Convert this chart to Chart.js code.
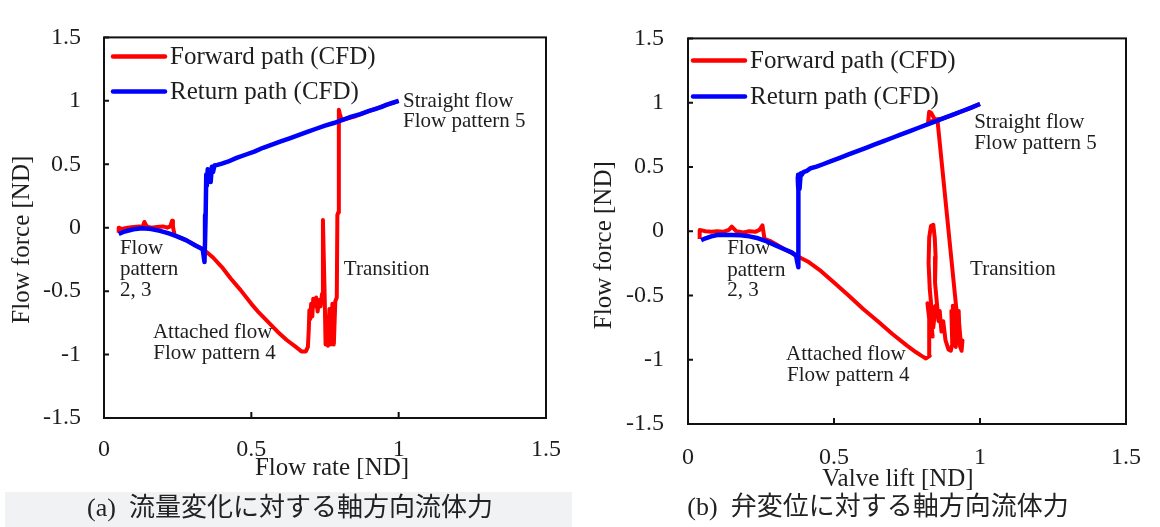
<!DOCTYPE html>
<html>
<head>
<meta charset="utf-8">
<script src="https://cdn.jsdelivr.net/npm/chart.js@4.4.0/dist/chart.umd.min.js"></script>
<style>
  body { margin: 0; background: #fff; width: 1160px; height: 527px; position: relative; overflow: hidden; }
  .panel { position: absolute; top: 0; width: 580px; height: 490px; }
  .band { position: absolute; left: 5px; top: 492px; width: 567px; height: 35px; background: #f1f2f4; }
  .cap { position: absolute; height: 36px; line-height: 36px; text-align: center; white-space: pre;
         font-family: "Liberation Serif", "Noto Sans CJK JP", serif; font-size: 26px; color: #222; }
</style>
</head>
<body>
<div class="panel" style="left:0"><canvas id="chartA"></canvas></div>
<div class="panel" style="left:580px"><canvas id="chartB"></canvas></div>
<div class="band"></div>
<div class="cap" style="left:0; width:580px; top:490px">(a)  流量変化に対する軸方向流体力</div>
<div class="cap" style="left:598px; width:560px; top:489px">(b)  弁変位に対する軸方向流体力</div>

<script>
// (a) flow force vs flow rate
var rateFwdX = [0.05, 0.05, 0.06, 0.08, 0.10, 0.12, 0.13, 0.137, 0.145, 0.16, 0.18, 0.20, 0.215, 0.225, 0.231, 0.234, 0.237, 0.24,
    0.26, 0.28, 0.30, 0.32, 0.34, 0.37, 0.40, 0.43, 0.463, 0.50, 0.526, 0.56, 0.589, 0.62, 0.651, 0.67, 0.685, 0.692,
    0.695, 0.697, 0.700, 0.703, 0.707, 0.710, 0.715, 0.720, 0.725, 0.730, 0.735, 0.740, 0.743, 0.746, 0.749, 0.752, 0.756,
    0.760, 0.765, 0.770, 0.775, 0.780, 0.785, 0.790, 0.792, 0.795, 0.797, 0.800, 0.805, 0.81, 0.85, 0.90, 0.95, 1.0];
var rateFwdY = [-0.04, 0.00, -0.01, 0.00, 0.005, 0.01, 0.0, 0.045, 0.01, 0.0, 0.005, 0.01, 0.0, 0.01, 0.055, 0.01, -0.03, -0.06,
    -0.08, -0.10, -0.125, -0.15, -0.175, -0.235, -0.31, -0.40, -0.49, -0.60, -0.67, -0.75, -0.82, -0.885, -0.94, -0.975, -0.975, -0.94,
    -0.80, -0.65, -0.72, -0.60, -0.70, -0.56, -0.62, -0.55, -0.66, -0.57, -0.62, -0.52, 0.06, -0.25, -0.55, -0.92, -0.70,
    -0.93, -0.64, -0.92, -0.60, -0.92, -0.58, -0.55, 0.10, 0.12, 0.93, 0.90, 0.86, 0.85, 0.875, 0.92, 0.96, 1.0];
var rateRetX = [1.0, 0.98, 0.96, 0.94, 0.92, 0.90, 0.87, 0.84, 0.81, 0.78, 0.75, 0.72, 0.69, 0.66, 0.63, 0.60, 0.57, 0.54,
    0.51, 0.48, 0.45, 0.42, 0.40, 0.385, 0.375, 0.37, 0.366, 0.362, 0.358, 0.355, 0.352, 0.349, 0.347, 0.345, 0.343, 0.341,
    0.338, 0.335, 0.31, 0.28, 0.25, 0.22, 0.19, 0.16, 0.13, 0.10, 0.07, 0.05];
var rateRetY = [1.0, 0.985, 0.97, 0.95, 0.935, 0.92, 0.895, 0.875, 0.85, 0.825, 0.805, 0.78, 0.755, 0.73, 0.705, 0.68, 0.655, 0.63,
    0.60, 0.575, 0.55, 0.52, 0.505, 0.495, 0.49, 0.44, 0.48, 0.36, 0.45, 0.38, 0.46, 0.33, 0.42, 0.10, -0.10, -0.27,
    -0.22, -0.17, -0.14, -0.10, -0.07, -0.045, -0.025, -0.01, -0.005, -0.012, -0.03, -0.05];

// (b) flow force vs valve lift
var liftFwdX = [0.04, 0.04, 0.06, 0.08, 0.10, 0.12, 0.14, 0.15, 0.165, 0.19, 0.21, 0.23, 0.245, 0.255, 0.258, 0.262,
    0.28, 0.30, 0.33, 0.36, 0.38, 0.41, 0.45, 0.50, 0.55, 0.60, 0.65, 0.70, 0.75, 0.78, 0.80, 0.815, 0.828,
    0.826, 0.82, 0.832, 0.824, 0.838, 0.83, 0.848, 0.84, 0.828, 0.824, 0.826, 0.832, 0.84, 0.845, 0.848, 0.846,
    0.852, 0.858, 0.862, 0.868, 0.874, 0.882, 0.892, 0.90, 0.905, 0.902, 0.91, 0.907, 0.916, 0.92, 0.917, 0.927, 0.931,
    0.928, 0.936, 0.94, 0.937, 0.932, 0.855, 0.84, 0.83, 0.822, 0.826, 0.833, 0.845, 0.87, 0.90, 0.93, 0.96, 1.0];
var liftFwdY = [-0.06, 0.01, 0.0, -0.005, 0.0, -0.005, 0.01, 0.035, 0.0, -0.01, 0.0, -0.005, 0.01, 0.045, 0.0, -0.06,
    -0.075, -0.10, -0.14, -0.175, -0.20, -0.235, -0.30, -0.40, -0.50, -0.605, -0.70, -0.80, -0.89, -0.94, -0.97, -0.99, -0.97,
    -0.68, -0.56, -0.80, -0.60, -0.82, -0.65, -0.58, -0.75, -0.45, -0.25, -0.05, 0.04, 0.05, -0.05, -0.20, -0.40,
    -0.55, -0.70, -0.62, -0.78, -0.70, -0.85, -0.92, -0.93, -0.88, -0.62, -0.80, -0.58, -0.85, -0.65, -0.90, -0.62, -0.88,
    -0.70, -0.92, -0.85, -0.93, -0.90, 0.85, 0.86, 0.85, 0.84, 0.93, 0.92, 0.87, 0.874, 0.90, 0.926, 0.952, 0.99];
var liftRetX = [1.0, 0.97, 0.94, 0.91, 0.88, 0.85, 0.82, 0.79, 0.76, 0.73, 0.70, 0.67, 0.64, 0.61, 0.58, 0.55, 0.52, 0.49,
    0.46, 0.44, 0.42, 0.407, 0.395, 0.39, 0.386, 0.382, 0.379, 0.377, 0.376, 0.378, 0.379, 0.378, 0.377, 0.375, 0.37,
    0.355, 0.33, 0.30, 0.27, 0.24, 0.21, 0.18, 0.15, 0.12, 0.10, 0.08, 0.06, 0.045];
var liftRetY = [0.99, 0.961, 0.935, 0.909, 0.883, 0.857, 0.831, 0.805, 0.779, 0.753, 0.727, 0.701, 0.675, 0.649, 0.623, 0.597, 0.571, 0.545,
    0.519, 0.502, 0.49, 0.47, 0.46, 0.44, 0.45, 0.33, 0.44, 0.35, 0.42, 0.32, 0.10, -0.15, -0.28, -0.25, -0.19,
    -0.165, -0.14, -0.11, -0.08, -0.055, -0.04, -0.032, -0.03, -0.028, -0.03, -0.04, -0.055, -0.07];

var axisTicks = [-1.5, -1, -0.5, 0, 0.5, 1, 1.5];
var yTickLabels = ['-1.5', '-1', '-0.5', '0', '0.5', '1', '1.5'];
var xTickLabels = ['0', '0.5', '1', '1.5'];
var seriesNames = ['Forward path (CFD)', 'Return path (CFD)'];
var seriesColors = ['#ff0000', '#0000ff'];

var SERIF = '"Liberation Serif", "Times New Roman", serif';
var INK = '#1e1e1e';

function pts(xs, ys) {
    return xs.map(function (v, i) { return { x: v, y: ys[i] }; });
}

// frame, inward ticks, legend, notes and axis titles
var decor = {
    id: 'decor',
    afterDatasetsDraw: function (chart, args, o) {
        var ctx = chart.ctx, a = chart.chartArea, xs = chart.scales.x, ys = chart.scales.y;
        ctx.save();
        ctx.strokeStyle = '#111';
        ctx.lineWidth = 2;
        ctx.strokeRect(a.left, a.top, a.right - a.left, a.bottom - a.top);
        ctx.beginPath();
        ys.ticks.forEach(function (t) {
            var py = ys.getPixelForValue(t.value);
            ctx.moveTo(a.left, py); ctx.lineTo(a.left + 5, py);
        });
        xs.ticks.forEach(function (t) {
            var px = xs.getPixelForValue(t.value);
            ctx.moveTo(px, a.bottom); ctx.lineTo(px, a.bottom - 6);
        });
        ctx.stroke();

        // legend
        ctx.lineWidth = 4.5;
        ctx.lineCap = 'round';
        ctx.font = '25px ' + SERIF;
        ctx.fillStyle = INK;
        ctx.textBaseline = 'middle';
        ctx.textAlign = 'left';
        o.legendRows.forEach(function (dy, i) {
            var ly = a.top + dy;
            ctx.strokeStyle = seriesColors[i];
            ctx.beginPath();
            ctx.moveTo(a.left + o.legendLine[0], ly);
            ctx.lineTo(a.left + o.legendLine[1], ly);
            ctx.stroke();
            ctx.fillText(seriesNames[i], a.left + o.legendText, ly + 1);
        });

        // notes
        ctx.font = '21px ' + SERIF;
        o.notes.forEach(function (n) {
            ctx.fillText(n[0], xs.getPixelForValue(n[1]), ys.getPixelForValue(n[2]));
        });

        // axis titles
        ctx.font = '25px ' + SERIF;
        ctx.textAlign = 'center';
        ctx.fillText(o.xTitle, (a.left + a.right) / 2 + o.xTitleAt[0], a.bottom + o.xTitleAt[1]);
        ctx.translate(a.left + o.yTitleAt[0], (a.top + a.bottom) / 2 + o.yTitleAt[1]);
        ctx.rotate(-Math.PI / 2);
        ctx.fillText(o.yTitle, 0, 0);
        ctx.restore();
    }
};

function makeChart(id, fx, fy, rx, ry, lay) {
    return new Chart(id, {
        type: 'scatter',
        data: {
            datasets: [{
                label: seriesNames[1],
                data: pts(rx, ry),
                showLine: true,
                borderColor: seriesColors[1],
                borderWidth: 4.5,
                pointRadius: 0,
                borderJoinStyle: 'round',
                order: 0
            }, {
                label: seriesNames[0],
                data: pts(fx, fy),
                showLine: true,
                borderColor: seriesColors[0],
                borderWidth: 4,
                pointRadius: 0,
                borderJoinStyle: 'round',
                order: 1
            }]
        },
        options: {
            responsive: true,
            maintainAspectRatio: false,
            animation: false,
            layout: { padding: lay.padding },
            plugins: {
                legend: { display: false },
                tooltip: { enabled: false },
                decor: lay.decor
            },
            scales: {
                x: {
                    type: 'linear', min: 0, max: 1.5,
                    afterBuildTicks: function (s) { s.ticks = [0, 0.5, 1, 1.5].map(function (v) { return { value: v }; }); },
                    afterFit: function (s) { s.height = lay.xHeight; },
                    grid: { display: false, drawTicks: false },
                    border: { display: false },
                    ticks: {
                        padding: lay.xPad, color: INK, font: { family: SERIF, size: 24 },
                        callback: function (v, i) { return xTickLabels[i]; }
                    }
                },
                y: {
                    type: 'linear', min: -1.5, max: 1.5,
                    afterBuildTicks: function (s) { s.ticks = axisTicks.map(function (v) { return { value: v }; }); },
                    afterFit: function (s) { s.width = lay.yWidth; },
                    grid: { display: false, drawTicks: false },
                    border: { display: false },
                    ticks: {
                        padding: lay.yPad, color: INK, font: { family: SERIF, size: 24 },
                        callback: function (v, i) { return yTickLabels[i]; }
                    }
                }
            }
        },
        plugins: [decor]
    });
}

makeChart('chartA', rateFwdX, rateFwdY, rateRetX, rateRetY, {
    padding: { top: 24, right: 34, left: 0, bottom: 0 },
    yWidth: 104, xHeight: 72, xPad: 17, yPad: 23,
    decor: {
        legendRows: [19, 54], legendLine: [9, 61], legendText: 66,
        xTitle: 'Flow rate [ND]', xTitleAt: [7, 50],
        yTitle: 'Flow force [ND]', yTitleAt: [-82, 12],
        notes: [
            ['Straight flow', 1.015, 0.997], ['Flow pattern 5', 1.015, 0.837],
            ['Transition', 0.814, -0.327],
            ['Flow', 0.054, -0.16], ['pattern', 0.054, -0.331], ['2, 3', 0.054, -0.495],
            ['Attached flow', 0.166, -0.822], ['Flow pattern 4', 0.167, -0.989]
        ]
    }
});

makeChart('chartB', liftFwdX, liftFwdY, liftRetX, liftRetY, {
    padding: { top: 24, right: 24, left: 0, bottom: 0 },
    yWidth: 108, xHeight: 66, xPad: 19, yPad: 24,
    decor: {
        legendRows: [22, 58], legendLine: [5, 57], legendText: 62,
        xTitle: 'Valve lift [ND]', xTitleAt: [-9, 55],
        yTitle: 'Flow force [ND]', yTitleAt: [-84, 14],
        notes: [
            ['Straight flow', 0.98, 0.848], ['Flow pattern 5', 0.98, 0.683],
            ['Transition', 0.966, -0.30],
            ['Flow', 0.134, -0.135], ['pattern', 0.134, -0.304], ['2, 3', 0.134, -0.465],
            ['Attached flow', 0.336, -0.96], ['Flow pattern 4', 0.339, -1.125]
        ]
    }
});
</script>
</body>
</html>
